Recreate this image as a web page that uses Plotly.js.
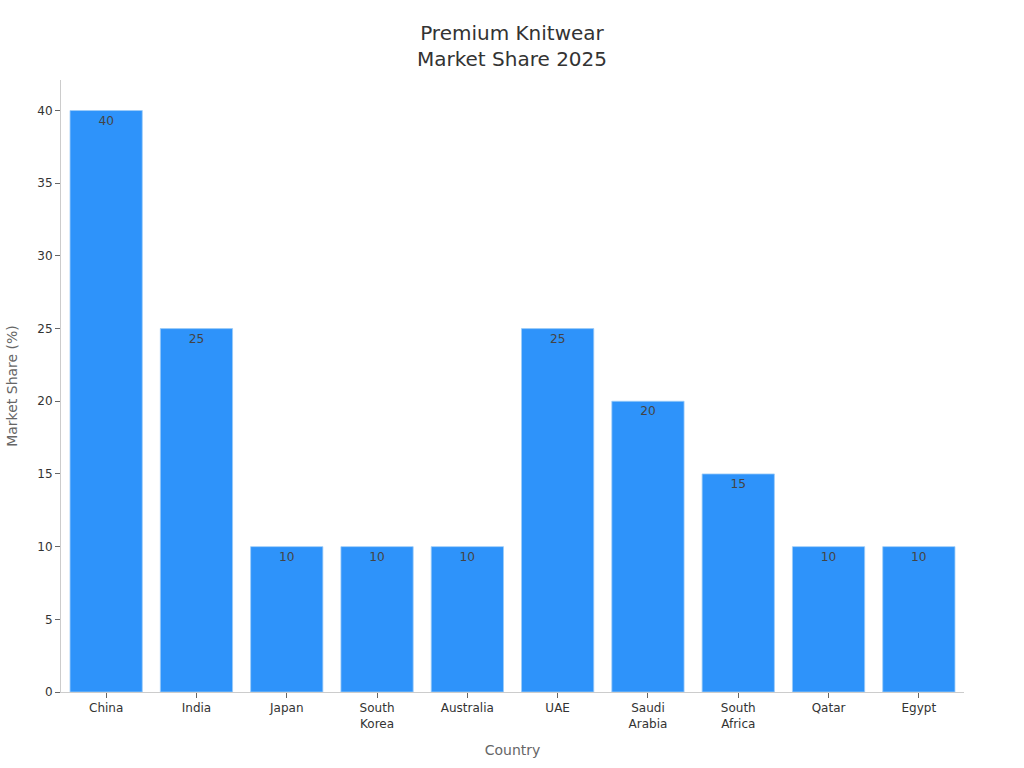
<!DOCTYPE html>
<html><head><meta charset="utf-8">
<script src="https://cdn.plot.ly/plotly-3.0.1.min.js"></script>
<style>html,body{margin:0;padding:0;background:#fff}</style></head>
<body><div id="chart" style="width:1024px;height:768px"></div>
<script>
const countries = ["China","India","Japan","South<br>Korea","Australia","UAE","Saudi<br>Arabia","South<br>Africa","Qatar","Egypt"];
const shares = [40,25,10,10,10,25,20,15,10,10];
const yTicks = [0,5,10,15,20,25,30,35,40];
const font = '"DejaVu Sans", sans-serif';
Plotly.newPlot('chart',[{
  type:'bar',x:countries,y:shares,text:shares.map(String),textposition:'inside',insidetextanchor:'end',
  textangle:0,cliponaxis:false,
  textfont:{family:font,size:12.2,color:'#444'},
  marker:{color:'#2E93FA',line:{color:'#9CCBF7',width:0.8}},
  hoverinfo:'skip'
}],{
  width:1024,height:768,autosize:false,showlegend:false,
  paper_bgcolor:'#fff',plot_bgcolor:'#fff',bargap:0.2,
  margin:{l:61,r:60,t:80,b:76},
  font:{family:font,color:'#333'},
  title:{text:'Premium Knitwear<br>Market Share 2025',x:0.5,xanchor:'center',y:0.948,yanchor:'middle',font:{family:font,size:20,color:'#333'}},
  xaxis:{title:{text:'Country',standoff:15,font:{family:font,size:14,color:'#666'}},
    tickfont:{family:font,size:12,color:'#333'},tickangle:0,showgrid:false,zeroline:false,
    showline:true,linecolor:'#ccc',linewidth:1,ticks:'outside',ticklen:5,tickcolor:'#666'},
  yaxis:{title:{text:'Market Share (%)',standoff:15.5,font:{family:font,size:14,color:'#666'}},
    tickfont:{family:font,size:12,color:'#333'},tickvals:yTicks,range:[0,42.1],showgrid:false,zeroline:false,
    showline:true,linecolor:'#ccc',linewidth:1,ticks:'outside',ticklen:5,tickcolor:'#666'}
},{displayModeBar:false,staticPlot:true});
</script></body></html>
